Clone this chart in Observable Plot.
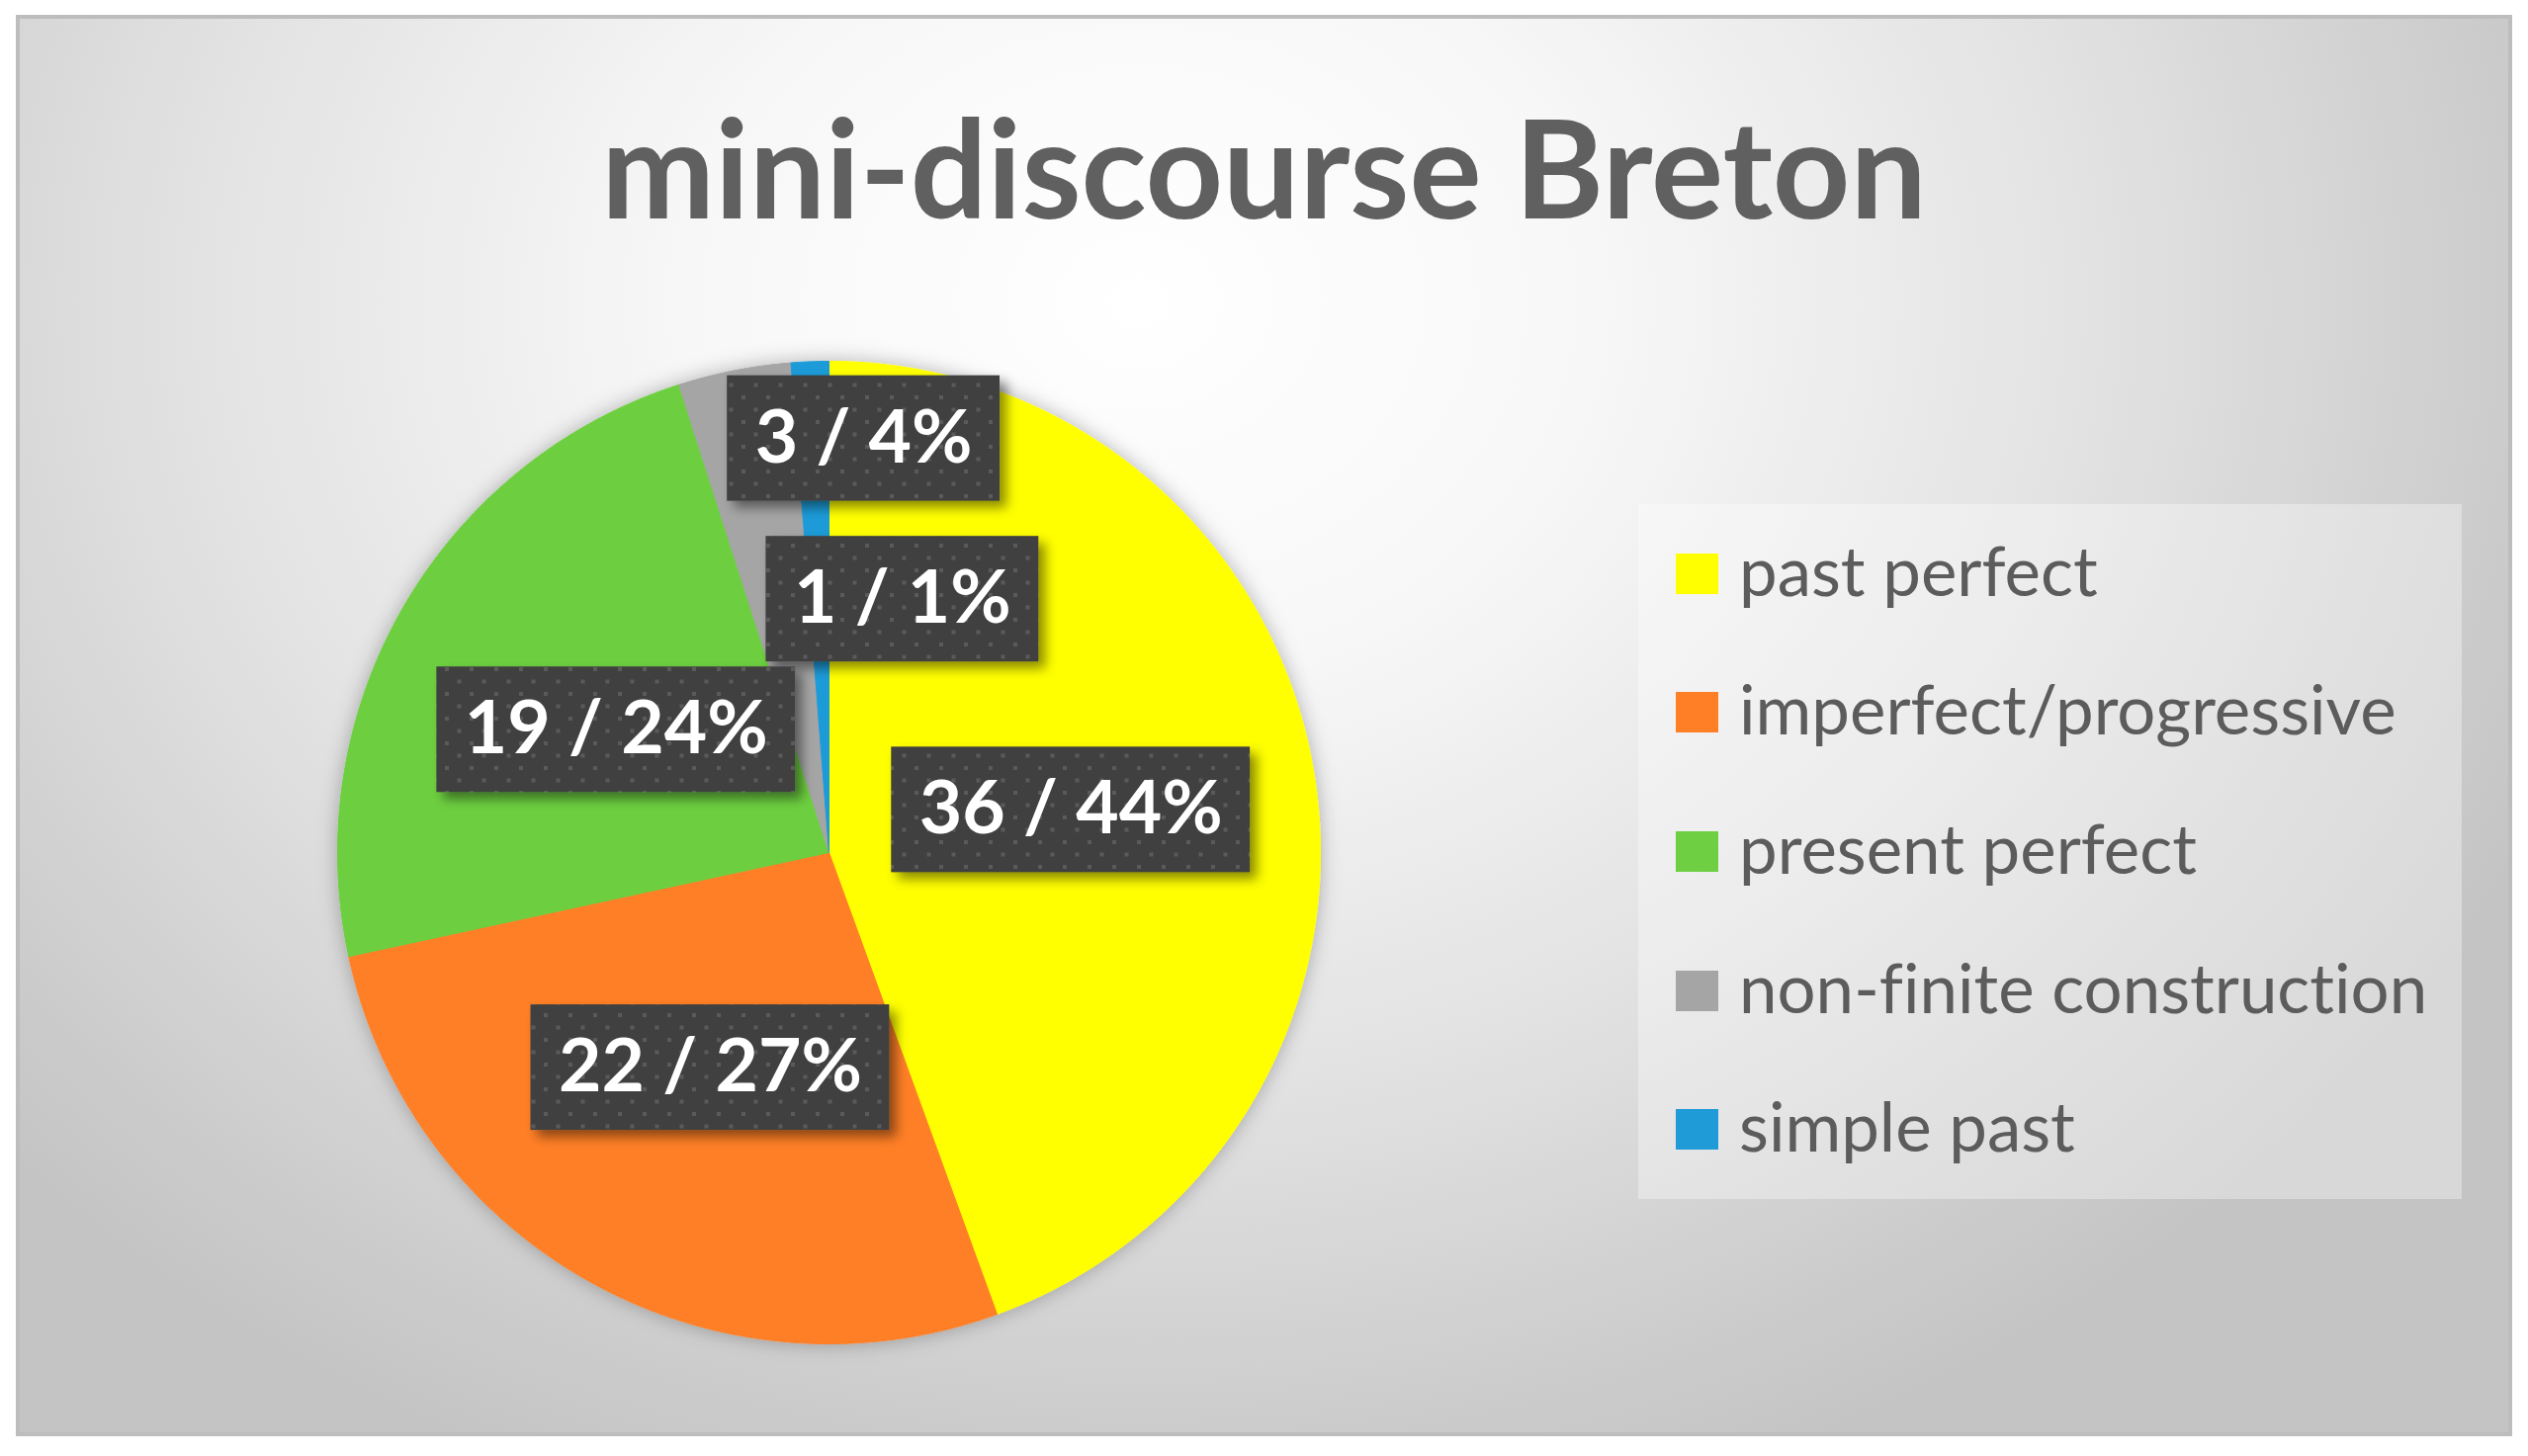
<!DOCTYPE html>
<html><head><meta charset="utf-8">
<script src="https://cdn.jsdelivr.net/npm/d3@7"></script>
<script src="https://cdn.jsdelivr.net/npm/@observablehq/plot@0.6"></script>
<style>
html,body{margin:0;padding:0;background:#fff;}
#root{position:relative;width:2557px;height:1473px;overflow:hidden;font-family:Lato,sans-serif;font-variant-ligatures:none;}
#panel{position:absolute;left:16px;top:15px;width:2525px;height:1438px;box-sizing:border-box;border:4px solid #bdbdbd;
 background:radial-gradient(ellipse 62% 90% at 45% 20%, #ffffff 0%, #f7f7f7 30%, #e2e2e2 62%, #cbcbcb 90%, #c4c4c4 100%);}
#title{position:absolute;left:16px;width:2525px;top:100px;text-align:center;font-weight:700;font-size:137px;line-height:137px;color:#606060;font-family:Lato,sans-serif;}
#chart{position:absolute;left:0;top:0;}
#legend{position:absolute;left:1657px;top:510px;width:833px;height:703px;background:rgba(255,255,255,0.35);}
.row{height:140.6px;display:flex;align-items:center;}
.sw{width:43px;height:41px;margin-left:38px;margin-right:21px;flex:none;}
.lt{font-family:Lato,sans-serif;font-weight:400;font-size:69px;color:#5c5c5c;line-height:1;white-space:nowrap;position:relative;top:-4px;font-variant-ligatures:none;}
</style></head>
<body><div id="root"><div id="panel"></div><div id="title"></div><div id="chart"></div><div id="legend"></div></div>
<script>
const chartTitle = "mini-discourse Breton";
const categories = ["past perfect","imperfect/progressive","present perfect","non-finite construction","simple past"];
const counts = [36, 22, 19, 3, 1];
const percentLabels = ["44%","27%","24%","4%","1%"];
const colors = ["#FFFF00","#FF7F27","#6DCF41","#A5A5A5","#1F9BD8"];
const labelNudgePx = [[0,0],[0,0],[0,0],[83,-175],[84,-8]];

const W = 2557, H = 1473, cx = 838, cy = 862, R = 497;
document.getElementById("title").textContent = chartTitle;

const rows = categories.map((c,i)=>({cat:c, count:counts[i]}));
const arcs = d3.pie().sort(null).value(d=>d.count)(rows);
const slicePts = [];
arcs.forEach(a=>{
  const cat = a.data.cat;
  const n = Math.max(2, Math.ceil((a.endAngle-a.startAngle)/(2*Math.PI)*720));
  slicePts.push({cat, x:0, y:0});
  for(let i=0;i<=n;i++){const t=a.startAngle+(a.endAngle-a.startAngle)*i/n; slicePts.push({cat, x:Math.sin(t), y:Math.cos(t)});}
  slicePts.push({cat, x:0, y:0});
});

const ctx = document.createElement("canvas").getContext("2d");
ctx.font = "700 75px Lato";
const padX = 28, boxH = 127;
const labels = arcs.map((a,i)=>{
  const m=(a.startAngle+a.endAngle)/2;
  const text = `${counts[i]} / ${percentLabels[i]}`;
  const x = 0.5*Math.sin(m) + labelNudgePx[i][0]/R;
  const y = 0.5*Math.cos(m) - labelNudgePx[i][1]/R;
  const hw = (ctx.measureText(text).width/2 + padX)/R;
  const hh = boxH/2/R;
  return {text, x, y, x1:x-hw, x2:x+hw, y1:y-hh, y2:y+hh};
});

const plot = Plot.plot({
  width: W, height: H, margin: 0,
  style: "background: transparent; overflow: visible;",
  x: {domain:[-1,1], range:[cx-R, cx+R], axis:null},
  y: {domain:[-1,1], range:[cy+R, cy-R], axis:null},
  color: {domain: categories, range: colors},
  marks: [
    Plot.line(slicePts, {x:"x", y:"y", z:"cat", fill:"cat", stroke:"cat", strokeWidth:1}),
    Plot.rect(labels, {x1:"x1", x2:"x2", y1:"y1", y2:"y2", fill:"url(#dots)"}),
    Plot.text(labels, {x:"x", y:"y", text:"text", fill:"white", fontSize:75, fontWeight:700, fontFamily:"Lato, sans-serif"})
  ]
});
const svg = d3.select(plot);
svg.insert("defs", ":first-child").html(`
<pattern id="dots" width="25" height="25" patternUnits="userSpaceOnUse">
<rect width="25" height="25" fill="#404040"/>
<rect x="0" y="0" width="4" height="4" fill="#5a5a5a"/>
<rect x="12.5" y="12.5" width="4" height="4" fill="#5a5a5a"/>
</pattern>
<filter id="pieShadow" x="-20%" y="-20%" width="140%" height="140%"><feDropShadow dx="0" dy="0" stdDeviation="10" flood-color="#000" flood-opacity="0.28"/></filter>
<filter id="boxShadow" x="-20%" y="-30%" width="140%" height="160%"><feDropShadow dx="7" dy="7" stdDeviation="6" flood-color="#000" flood-opacity="0.45"/></filter>`);
svg.select('g[aria-label="line"]').attr("filter","url(#pieShadow)");
svg.select('g[aria-label="rect"]').attr("filter","url(#boxShadow)");
document.getElementById("chart").appendChild(plot);

const legend = d3.select("#legend");
categories.forEach((c,i)=>{
  const r = legend.append("div").attr("class","row");
  r.append("div").attr("class","sw").style("background",colors[i]);
  r.append("div").attr("class","lt").text(c);
});
</script></body></html>
